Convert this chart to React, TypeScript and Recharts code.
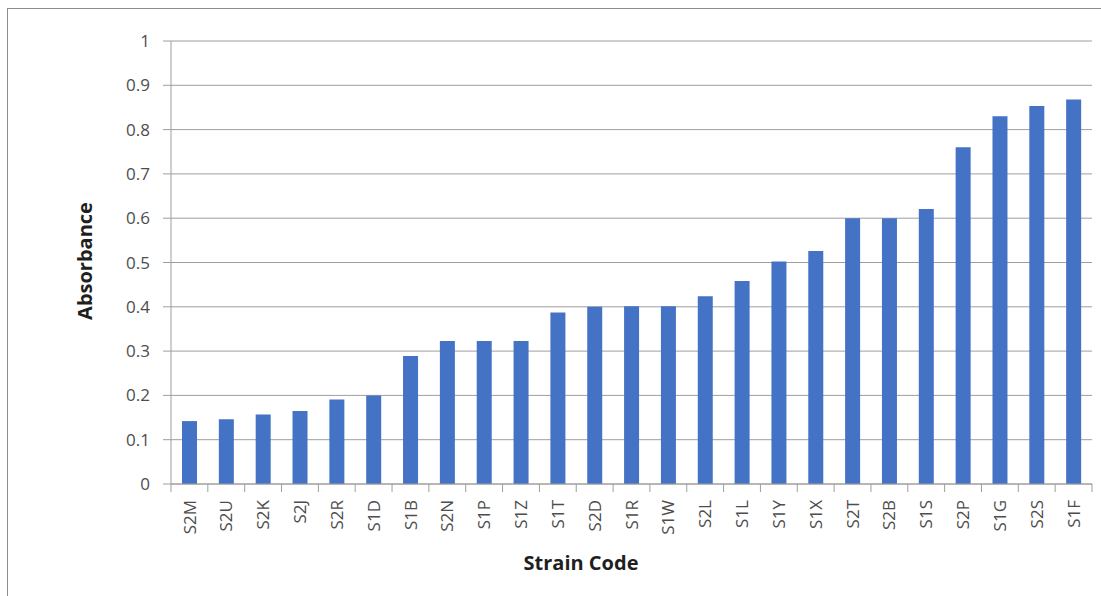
import React from 'react';
import { BarChart, Bar, XAxis, YAxis, CartesianGrid, Label } from 'recharts';

const strains = [
  'S2M', 'S2U', 'S2K', 'S2J', 'S2R', 'S1D', 'S1B', 'S2N', 'S1P', 'S1Z', 'S1T', 'S2D', 'S1R',
  'S1W', 'S2L', 'S1L', 'S1Y', 'S1X', 'S2T', 'S2B', 'S1S', 'S2P', 'S1G', 'S2S', 'S1F',
];
const absorbance = [
  0.142, 0.146, 0.157, 0.165, 0.191, 0.2, 0.289, 0.323, 0.323, 0.323, 0.387, 0.4, 0.401,
  0.401, 0.424, 0.458, 0.502, 0.526, 0.6, 0.6, 0.621, 0.76, 0.83, 0.853, 0.868,
];
const yTicks = [0, 0.1, 0.2, 0.3, 0.4, 0.5, 0.6, 0.7, 0.8, 0.9, 1];

const data = strains.map((name, i) => ({ name, value: absorbance[i] }));

const W = 1101;
const H = 596;
const MARGIN = { top: 41, right: 9, left: 0, bottom: 0 };
const Y_AXIS_W = 171;
const X_AXIS_H = 112;
const PLOT_W = W - MARGIN.left - MARGIN.right - Y_AXIS_W;
const BAND = PLOT_W / strains.length;

const GRID = '#9e9e9e';
const FONT = '"Open Sans", sans-serif';

// category ticks: boundary marks + rotated label under the bar
const StrainTick = (props: any) => {
  const { x, y, index } = props;
  const left = x - BAND / 2;
  return (
    <g>
      <line x1={left} y1={y} x2={left} y2={y + 8} stroke={GRID} />
      {index === strains.length - 1 && (
        <line x1={x + BAND / 2} y1={y} x2={x + BAND / 2} y2={y + 8} stroke={GRID} />
      )}
      <text
        x={x}
        y={y + 16}
        transform={`rotate(-90, ${x}, ${y + 16})`}
        textAnchor="end"
        dy="0.36em"
        fill="#4d4d4d"
        fontSize={17}
        fontFamily={FONT}
      >
        {props.payload.value}
      </text>
    </g>
  );
};

export default function App() {
  return (
    <div style={{ position: 'absolute', left: 0, top: 0, width: W, height: H, background: '#fff', overflow: 'hidden' }}>
      <div
        style={{
          position: 'absolute', left: 7, top: 8, width: W, height: H,
          borderLeft: '1px solid #8c8c8c', borderTop: '1px solid #8c8c8c',
        }}
      />
      <div style={{ position: 'absolute', left: 0, top: 0 }}>
        <BarChart width={W} height={H} data={data} margin={MARGIN} barSize={15}>
          <CartesianGrid vertical={false} stroke={GRID} strokeWidth={1} />
          <XAxis
            dataKey="name"
            height={X_AXIS_H}
            interval={0}
            tickSize={0}
            tickMargin={0}
            tickLine={false}
            axisLine={{ stroke: GRID }}
            tick={<StrainTick />}
          >
            <Label
              content={() => (
                <text x={581} y={562} textAnchor="middle" dominantBaseline="central"
                  fontSize={20} fontWeight="bold" fill="#1f1f1f" fontFamily={FONT}>
                  Strain Code
                </text>
              )}
            />
          </XAxis>
          <YAxis
            width={Y_AXIS_W}
            domain={[0, 1]}
            ticks={yTicks}
            tickSize={8}
            tickMargin={13}
            tickLine={{ stroke: GRID }}
            axisLine={{ stroke: GRID }}
            tick={{ fill: '#4d4d4d', fontSize: 17, fontFamily: FONT }}
          >
            <Label
              content={() => (
                <text x={84} y={261} textAnchor="middle" dominantBaseline="central"
                  transform="rotate(-90, 84, 261)"
                  fontSize={20} fontWeight="bold" fill="#1f1f1f" fontFamily={FONT}>
                  Absorbance
                </text>
              )}
            />
          </YAxis>
          <Bar dataKey="value" fill="#4472c4" isAnimationActive={false} />
        </BarChart>
      </div>
    </div>
  );
}
